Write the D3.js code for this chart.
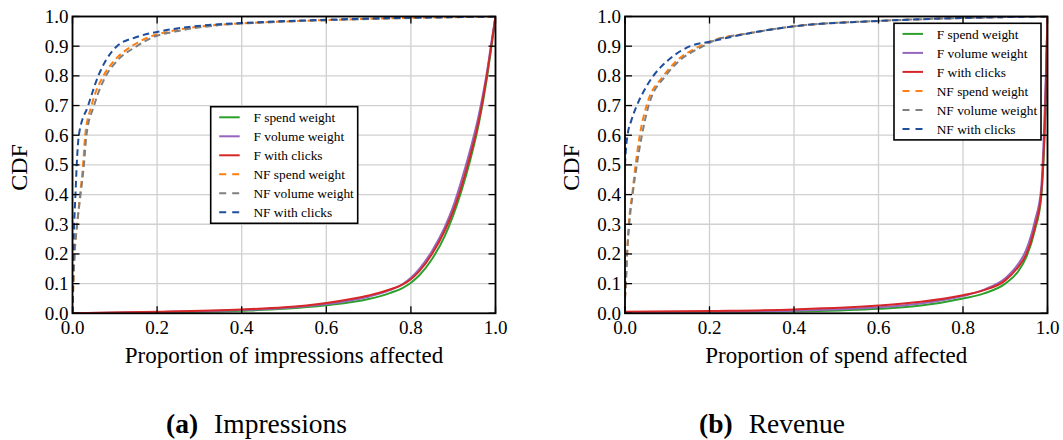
<!DOCTYPE html>
<html>
<head>
<meta charset="utf-8">
<script src="https://cdn.jsdelivr.net/npm/d3@7"></script>
<style>
  body { margin: 0; background: #fff; }
  text { font-family: "Liberation Serif", "Times New Roman", serif; fill: #000; }
</style>
</head>
<body>
<script>
// ---- data ----
const seriesNames = ['F spend weight', 'F volume weight', 'F with clicks',
                     'NF spend weight', 'NF volume weight', 'NF with clicks']
const seriesColors = ['#2ca02c', '#9467bd', '#d62728', '#ff7f0e', '#7f7f7f', '#1f4f9c']
const xTicks = [0, 0.2, 0.4, 0.6, 0.8, 1.0]
const yTicks = [0, 0.1, 0.2, 0.3, 0.4, 0.5, 0.6, 0.7, 0.8, 0.9, 1.0]

// (a) impressions, F curves: CDF at given x
const impFx      = [0, 0.2, 0.4, 0.5, 0.6, 0.7, 0.75, 0.78, 0.8, 0.82, 0.85, 0.88, 0.9, 0.92, 0.94, 0.96, 0.98, 0.99, 1.0]
const impFSpend  = [0, 0.003, 0.009, 0.015, 0.027, 0.048, 0.068, 0.085, 0.103, 0.128, 0.183, 0.26, 0.33, 0.415, 0.515, 0.635, 0.795, 0.895, 1.0]
const impFVolume = [0, 0.004, 0.011, 0.018, 0.031, 0.056, 0.078, 0.098, 0.12, 0.15, 0.21, 0.29, 0.36, 0.45, 0.55, 0.665, 0.815, 0.91, 1.0]
const impFClicks = [0, 0.005, 0.013, 0.02, 0.035, 0.06, 0.08, 0.097, 0.115, 0.142, 0.2, 0.278, 0.345, 0.43, 0.53, 0.645, 0.805, 0.9, 1.0]
// (a) impressions, NF curves: x at given CDF level
const impNFy      = [0, 0.1, 0.2, 0.3, 0.4, 0.5, 0.6, 0.7, 0.8, 0.85, 0.9, 0.93, 0.95, 0.97, 0.98, 0.99, 1.0]
const impNFSpend  = [0, 0.002, 0.005, 0.011, 0.018, 0.025, 0.03, 0.045, 0.073, 0.098, 0.14, 0.18, 0.23, 0.33, 0.45, 0.65, 1.0]
const impNFVolume = [0, 0.002, 0.005, 0.011, 0.019, 0.027, 0.033, 0.051, 0.079, 0.105, 0.152, 0.19, 0.245, 0.34, 0.46, 0.66, 1.0]
const impNFClicks = [0, 0.001, 0.002, 0.004, 0.007, 0.01, 0.015, 0.037, 0.061, 0.078, 0.105, 0.15, 0.207, 0.31, 0.43, 0.62, 1.0]

// (b) revenue, F curves
const revFx      = [0, 0.2, 0.4, 0.6, 0.7, 0.8, 0.85, 0.9, 0.93, 0.95, 0.97, 0.985, 0.99, 0.995, 1.0]
const revFSpend  = [0.002, 0.003, 0.006, 0.015, 0.026, 0.05, 0.067, 0.1, 0.14, 0.19, 0.28, 0.39, 0.5, 0.68, 1.0]
const revFVolume = [0.003, 0.005, 0.009, 0.02, 0.033, 0.058, 0.08, 0.118, 0.165, 0.215, 0.31, 0.42, 0.55, 0.75, 1.0]
const revFClicks = [0.005, 0.008, 0.013, 0.026, 0.039, 0.061, 0.078, 0.111, 0.155, 0.2, 0.29, 0.4, 0.51, 0.7, 1.0]
// (b) revenue, NF curves
const revNFy      = [0.05, 0.1, 0.2, 0.3, 0.4, 0.5, 0.6, 0.7, 0.8, 0.85, 0.9, 0.915, 0.945, 0.967, 0.985, 0.995, 1.0]
const revNFSpend  = [0, 0.002, 0.005, 0.009, 0.017, 0.025, 0.035, 0.051, 0.091, 0.122, 0.177, 0.2, 0.3, 0.4, 0.6, 0.8, 1.0]
const revNFVolume = [0, 0.002, 0.005, 0.01, 0.018, 0.028, 0.04, 0.056, 0.096, 0.128, 0.185, 0.205, 0.3, 0.4, 0.6, 0.8, 1.0]
const revNFClickY = [0.5, 0.55, 0.6, 0.65, 0.7, 0.75, 0.8, 0.85, 0.9, 0.915, 0.945, 0.967, 0.985, 0.995, 1.0]
const revNFClickX = [0, 0.002, 0.006, 0.015, 0.028, 0.045, 0.067, 0.1, 0.154, 0.2, 0.3, 0.4, 0.6, 0.8, 1.0]

const zip = (xs, ys) => xs.map((x, i) => [x, ys[i]])

const panels = [
  {
    id: 'a', left: 72.5, right: 495.5, xlabel: 'Proportion of impressions affected',
    legend: [210.7, 106.7], caption: ['(a)', 'Impressions'], capX: 166,
    series: [zip(impFx, impFSpend), zip(impFx, impFVolume), zip(impFx, impFClicks),
             zip(impNFSpend, impNFy), zip(impNFVolume, impNFy), zip(impNFClicks, impNFy)]
  },
  {
    id: 'b', left: 625, right: 1047.5, xlabel: 'Proportion of spend affected',
    legend: [894, 23.3], caption: ['(b)', 'Revenue'], capX: 699,
    series: [zip(revFx, revFSpend), zip(revFx, revFVolume), zip(revFx, revFClicks),
             zip(revNFSpend, revNFy), zip(revNFVolume, revNFy), zip(revNFClickX, revNFClickY)]
  }
]

const plotTop = 16.5, plotBottom = 313.3
const svg = d3.select('body').append('svg').attr('width', 1063).attr('height', 440)

panels.forEach(p => {
  const x = d3.scaleLinear().domain([0, 1]).range([p.left, p.right])
  const y = d3.scaleLinear().domain([0, 1]).range([plotBottom, plotTop])
  const g = svg.append('g')

  // grid
  g.selectAll('line.gx').data(xTicks).enter().append('line')
    .attr('x1', d => x(d)).attr('x2', d => x(d)).attr('y1', plotTop).attr('y2', plotBottom)
    .attr('stroke', '#d0d0d0').attr('stroke-width', 1.3)
  g.selectAll('line.gy').data(yTicks).enter().append('line')
    .attr('y1', d => y(d)).attr('y2', d => y(d)).attr('x1', p.left).attr('x2', p.right)
    .attr('stroke', '#d0d0d0').attr('stroke-width', 1.3)

  // clip
  svg.append('clipPath').attr('id', 'clip' + p.id).append('rect')
    .attr('x', p.left).attr('y', plotTop).attr('width', p.right - p.left).attr('height', plotBottom - plotTop)

  const line = d3.line().x(d => x(d[0])).y(d => y(d[1])).curve(d3.curveMonotoneX)
  g.append('g').attr('clip-path', `url(#clip${p.id})`)
    .selectAll('path').data(p.series).enter().append('path')
    .attr('d', line)
    .attr('fill', 'none')
    .attr('stroke', (d, i) => seriesColors[i])
    .attr('stroke-width', 2)
    .attr('stroke-dasharray', (d, i) => i >= 3 ? '6.5,4' : null)

  // frame
  g.append('rect').attr('x', p.left).attr('y', plotTop)
    .attr('width', p.right - p.left).attr('height', plotBottom - plotTop)
    .attr('fill', 'none').attr('stroke', '#000').attr('stroke-width', 1.8)

  // inward ticks on all four sides
  const tl = 7
  xTicks.forEach(t => {
    g.append('line').attr('x1', x(t)).attr('x2', x(t)).attr('y1', plotBottom).attr('y2', plotBottom - tl)
      .attr('stroke', '#000').attr('stroke-width', 1.3)
    g.append('line').attr('x1', x(t)).attr('x2', x(t)).attr('y1', plotTop).attr('y2', plotTop + tl)
      .attr('stroke', '#000').attr('stroke-width', 1.3)
  })
  yTicks.forEach(t => {
    g.append('line').attr('x1', p.left).attr('x2', p.left + tl).attr('y1', y(t)).attr('y2', y(t))
      .attr('stroke', '#000').attr('stroke-width', 1.3)
    g.append('line').attr('x1', p.right).attr('x2', p.right - tl).attr('y1', y(t)).attr('y2', y(t))
      .attr('stroke', '#000').attr('stroke-width', 1.3)
  })

  // tick labels
  g.selectAll('text.xt').data(xTicks).enter().append('text')
    .attr('x', d => x(d)).attr('y', 334.3).attr('text-anchor', 'middle')
    .style('font-size', '19px').text(d => d3.format('.1f')(d))
  g.selectAll('text.yt').data(yTicks).enter().append('text')
    .attr('x', p.left - 4).attr('y', d => y(d) + 6.5).attr('text-anchor', 'end')
    .style('font-size', '19px').text(d => d3.format('.1f')(d))

  // axis labels
  g.append('text').attr('x', (p.left + p.right) / 2).attr('y', 362.5)
    .attr('text-anchor', 'middle').style('font-size', '23px').text(p.xlabel)
  g.append('text').attr('transform', `translate(${p.left - 46},167.5) rotate(-90)`)
    .attr('text-anchor', 'middle').style('font-size', '24px').text('CDF')

  // legend
  const [lx, ly] = p.legend
  const lg = g.append('g').attr('transform', `translate(${lx},${ly})`)
  lg.append('rect').attr('width', 147).attr('height', 116.6)
    .attr('fill', '#fff').attr('stroke', '#000').attr('stroke-width', 1.6)
  const item = lg.selectAll('g.item').data(seriesNames).enter().append('g')
    .attr('transform', (d, i) => `translate(0,${10.6 + i * 19})`)
  item.append('line').attr('x1', 8.5).attr('x2', 29).attr('y1', 0).attr('y2', 0)
    .attr('stroke', (d, i) => seriesColors[i]).attr('stroke-width', 2)
    .attr('stroke-dasharray', (d, i) => i >= 3 ? '7,6' : null)
  item.append('text').attr('x', 42.7).attr('y', 4.6)
    .style('font-size', '13.4px').text(d => d)

  // caption
  const cap = g.append('text').attr('x', p.capX).attr('y', 433.3).style('font-size', '27.5px')
  cap.append('tspan').style('font-weight', 'bold').text(p.caption[0])
  cap.append('tspan').attr('dx', 16).text(p.caption[1])
})
</script>
</body>
</html>
